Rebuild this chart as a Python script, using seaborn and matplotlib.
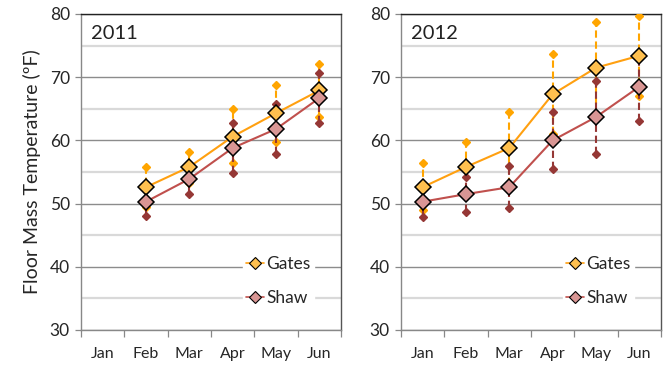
import matplotlib
matplotlib.use("Agg")
import matplotlib.pyplot as plt
import seaborn as sns
import pandas as pd
import numpy as np
from matplotlib.lines import Line2D

months = ["Jan", "Feb", "Mar", "Apr", "May", "Jun"]
years = ["2011", "2012"]

# 2011 (no January data)
gates_2011 = [np.nan, 52.6, 55.8, 60.6, 64.3, 67.9]
gates_2011_lo = [np.nan, 49.5, 53.2, 56.4, 59.7, 63.7]
gates_2011_hi = [np.nan, 55.8, 58.2, 65.0, 68.8, 72.1]
shaw_2011 = [np.nan, 50.3, 53.9, 58.8, 61.8, 66.7]
shaw_2011_lo = [np.nan, 48.0, 51.5, 54.8, 57.9, 62.7]
shaw_2011_hi = [np.nan, 52.5, 55.8, 62.8, 65.8, 70.6]

# 2012
gates_2012 = [52.6, 55.8, 58.8, 67.3, 71.5, 73.4]
gates_2012_lo = [49.0, 51.8, 53.0, 61.0, 64.0, 67.0]
gates_2012_hi = [56.4, 59.7, 64.5, 73.7, 78.7, 79.7]
shaw_2012 = [50.3, 51.5, 52.6, 60.0, 63.7, 68.5]
shaw_2012_lo = [47.9, 48.7, 49.3, 55.5, 57.9, 63.0]
shaw_2012_hi = [52.3, 54.2, 56.0, 64.5, 69.4, 73.5]

series = {
    "2011": {"Gates": (gates_2011, gates_2011_lo, gates_2011_hi),
             "Shaw": (shaw_2011, shaw_2011_lo, shaw_2011_hi)},
    "2012": {"Gates": (gates_2012, gates_2012_lo, gates_2012_hi),
             "Shaw": (shaw_2012, shaw_2012_lo, shaw_2012_hi)},
}

style = {
    "Gates": dict(line="#FFA010", err="#FFA500", face="#FFC04F"),
    "Shaw": dict(line="#C0504D", err="#953735", face="#D99694"),
}

sns.set_theme(style="white")
plt.rcParams["font.family"] = ["Lato", "DejaVu Sans"]

fig = plt.figure(figsize=(6.65, 3.66), dpi=100)
axes = [fig.add_axes([81/665, 36/366, 260/665, 316/366]),
        fig.add_axes([401/665, 36/366, 260/665, 316/366])]

for ax, yr in zip(axes, years):
    x = np.arange(len(months))
    for name in ["Gates", "Shaw"]:
        vals, lo, hi = series[yr][name]
        st = style[name]
        df = pd.DataFrame({"x": x, "y": vals, "lo": lo, "hi": hi}).dropna()
        ax.vlines(df["x"], df["lo"], df["hi"], colors=st["err"],
                  linestyles=(0, (3.5, 1.8)), linewidth=1.5, zorder=3)
        ax.plot(df["x"], df["lo"], linestyle="none", marker="D", ms=4.5,
                color=st["err"], mec=st["err"], zorder=3)
        ax.plot(df["x"], df["hi"], linestyle="none", marker="D", ms=4.5,
                color=st["err"], mec=st["err"], zorder=3)
    for name in ["Gates", "Shaw"]:
        vals, lo, hi = series[yr][name]
        st = style[name]
        df = pd.DataFrame({"x": x, "y": vals}).dropna()
        sns.lineplot(data=df, x="x", y="y", ax=ax, color=st["line"],
                     linewidth=1.5, marker="D", markersize=8.5,
                     markerfacecolor=st["face"], markeredgecolor="black",
                     markeredgewidth=1.1, zorder=5)

    ax.set_xlim(-0.5, len(months) - 0.5)
    ax.set_ylim(30, 80)
    ax.set_xticks(x)
    ax.set_xticklabels(months, fontsize=11.5)
    ax.set_xticks(np.arange(-0.5, len(months)), minor=True)
    ax.tick_params(axis="x", which="major", length=0, pad=12)
    ax.tick_params(axis="x", which="minor", length=5, width=0.9,
                   color="#888888", direction="out", bottom=True)
    ax.set_yticks(np.arange(30, 81, 10))
    ax.set_yticks(np.arange(35, 80, 10), minor=True)
    ax.tick_params(axis="y", which="major", length=4, width=0.9,
                   color="#888888", labelsize=12.5, direction="out",
                   left=True, pad=4)
    ax.tick_params(axis="y", which="minor", length=0)
    ax.grid(True, which="major", axis="y", color="#8C8C8C", linewidth=1.0)
    ax.grid(True, which="minor", axis="y", color="#D9D9D9", linewidth=1.6)
    ax.set_axisbelow(True)
    ax.set_xlabel("")
    ax.set_ylabel("")
    for side, sp in ax.spines.items():
        sp.set_visible(True)
        sp.set_linewidth(1.0)
        sp.set_color("#888888")
    ax.spines["top"].set_color("#222222")
    ax.spines["right"].set_color("#555555")
    ax.text(0.04, 0.965, yr, transform=ax.transAxes, fontsize=14.5,
            ha="left", va="top", color="#222222")

    handles = [Line2D([0], [0], color=style[n]["line"], marker="D",
                      markersize=6, markerfacecolor=style[n]["face"],
                      markeredgecolor="black", markeredgewidth=0.8,
                      linewidth=1.2) for n in ["Gates", "Shaw"]]
    leg = ax.legend(handles, ["Gates", "Shaw"], loc="center",
                    bbox_to_anchor=(0.76, 0.155), frameon=True,
                    fontsize=12.5, handlelength=1.0, handletextpad=0.15,
                    labelspacing=1.0, borderpad=0.2, fancybox=False,
                    borderaxespad=0)
    leg.get_frame().set_facecolor("white")
    leg.get_frame().set_edgecolor("white")
    leg.get_frame().set_alpha(1.0)

axes[0].set_ylabel("Floor Mass Temperature (ºF)", fontsize=14, labelpad=6)

fig.savefig("out.png", dpi=100)
